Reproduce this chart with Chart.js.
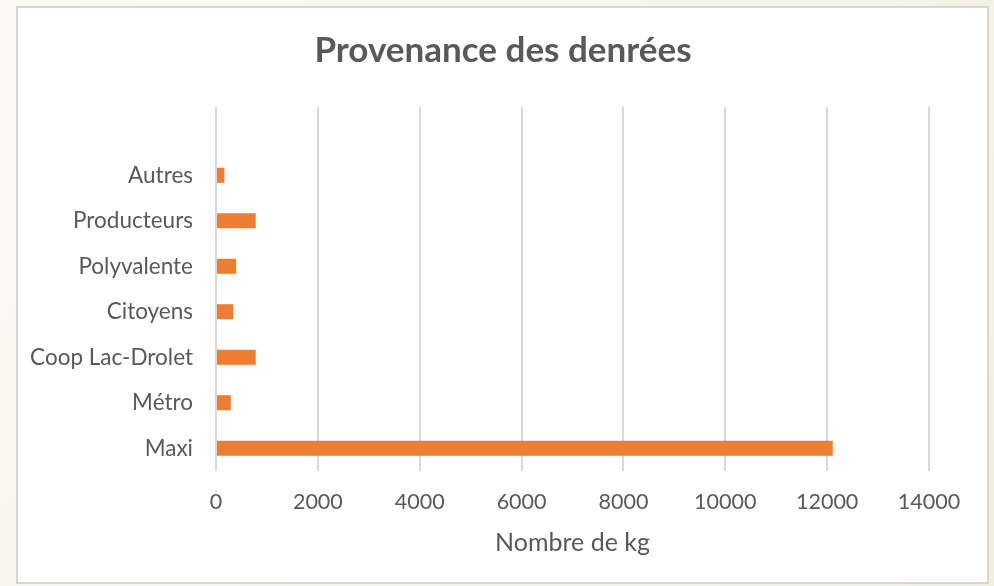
<!DOCTYPE html>
<html>
<head>
<meta charset="utf-8">
<script src="https://cdn.jsdelivr.net/npm/chart.js@4/dist/chart.umd.min.js"></script>
<style>
  html, body { margin: 0; padding: 0; width: 994px; height: 586px; overflow: hidden; background: #ffffff; }
  #wrap { position: absolute; left: 0; top: 0; width: 994px; height: 586px; }
</style>
</head>
<body>
<div id="wrap"><canvas id="c" width="994" height="586"></canvas></div>
<script>
// Data (index 0 = bottom of chart); last category is an empty row shown at the top
const categories = ['Maxi', 'Métro', 'Coop Lac-Drolet', 'Citoyens', 'Polyvalente', 'Producteurs', 'Autres', ''];
const kgValues = [12110, 290, 780, 340, 395, 780, 165, null];
const xTickMax = 14000;
const xTickStep = 2000;
const chartTitle = 'Provenance des denrées';
const xAxisTitle = 'Nombre de kg';

const textColor = '#595959';
const font = "Lato, 'Open Sans', sans-serif";

const framePlugin = {
  id: 'frame',
  beforeDraw(chart) {
    const ctx = chart.ctx;
    const w = chart.width, h = chart.height;
    ctx.save();
    const g = ctx.createLinearGradient(0, 0, w, h);
    g.addColorStop(0, '#fbfaf5');
    g.addColorStop(1, '#f2efdf');
    ctx.fillStyle = g;
    ctx.fillRect(0, 0, w, h);
    ctx.fillStyle = '#ffffff';
    ctx.fillRect(17, 7, 971, 576);
    ctx.strokeStyle = '#d6d6d6';
    ctx.lineWidth = 2;
    ctx.strokeRect(17, 7, 971, 576);
    ctx.restore();
  }
};

new Chart(document.getElementById('c'), {
  type: 'bar',
  data: {
    labels: categories,
    datasets: [{
      label: xAxisTitle,
      data: kgValues,
      backgroundColor: '#ED7D31',
      borderWidth: 0,
      categoryPercentage: 1,
      barPercentage: 0.33,
      yAxisID: 'y'
    }]
  },
  options: {
    indexAxis: 'y',
    responsive: false,
    animation: false,
    devicePixelRatio: 1,
    layout: { padding: { left: 12, right: 0, top: 0, bottom: 0 } },
    plugins: {
      legend: { display: false },
      tooltip: { enabled: false },
      title: {
        display: true,
        text: chartTitle,
        color: textColor,
        font: { family: font, size: 35, weight: 'bold' },
        padding: { top: 30, bottom: 35 }
      }
    },
    scales: {
      x: {
        min: 0,
        max: xTickMax,
        ticks: {
          stepSize: xTickStep,
          color: textColor,
          font: { family: font, size: 21.5 },
          padding: 18,
          maxRotation: 0,
          callback: (v) => String(v)
        },
        grid: { color: '#d9d9d9', lineWidth: 2, drawTicks: false },
        border: { display: false },
        title: {
          display: true,
          text: xAxisTitle,
          color: textColor,
          font: { family: font, size: 25 },
          padding: { top: 0, bottom: 28 }
        },
        afterFit(scale) { scale.height = 115; }
      },
      y: {
        reverse: true,
        ticks: {
          color: textColor,
          font: { family: font, size: 22.5 },
          padding: 23
        },
        grid: { display: false, drawTicks: false },
        border: { display: false },
        afterFit(scale) { scale.width = 204; }
      },
      yRight: {
        type: 'linear',
        position: 'right',
        display: true,
        ticks: { display: false },
        grid: { display: false, drawTicks: false },
        border: { display: false },
        afterFit(scale) { scale.width = 65; }
      }
    }
  },
  plugins: [framePlugin]
});
</script>
</body>
</html>
